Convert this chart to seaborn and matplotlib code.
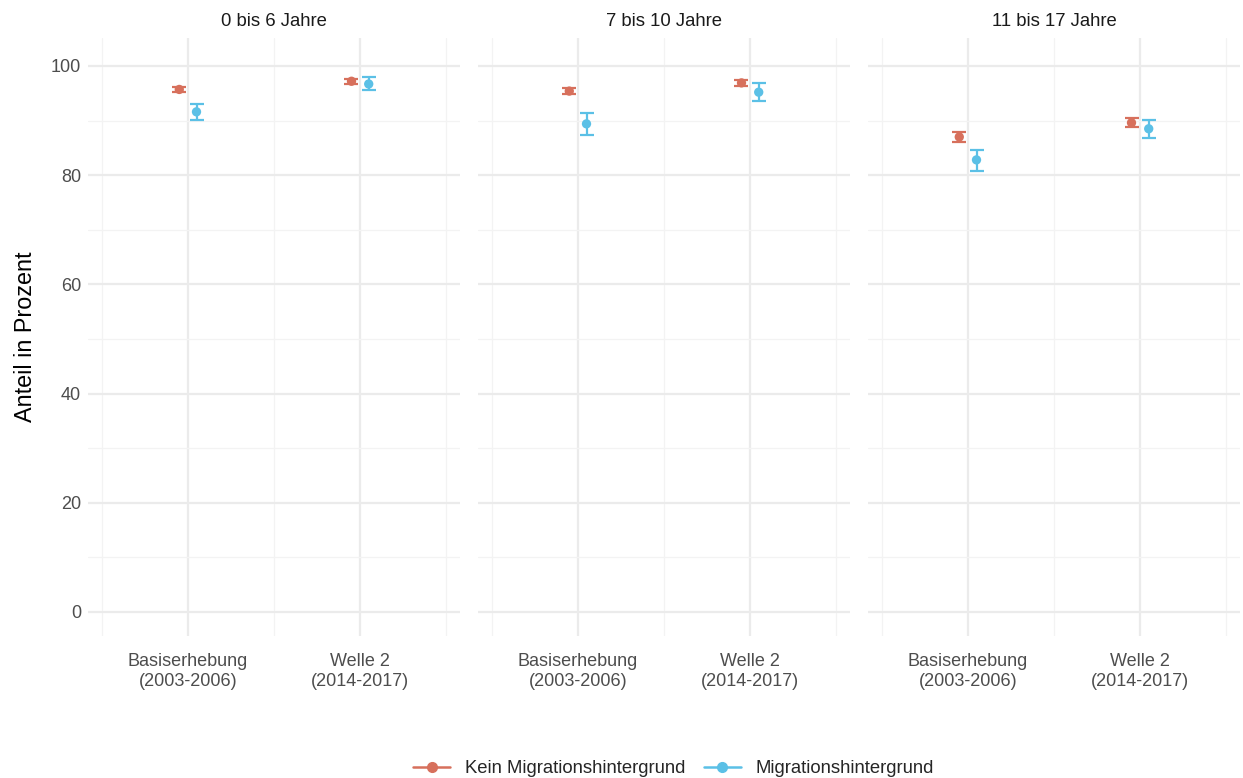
import numpy as np
import pandas as pd
import matplotlib
matplotlib.use("Agg")
import matplotlib.pyplot as plt
import seaborn as sns
from matplotlib.lines import Line2D
from matplotlib.ticker import MultipleLocator

# Data
age_groups = ["0 bis 6 Jahre", "7 bis 10 Jahre", "11 bis 17 Jahre"]
waves = ["Basiserhebung\n(2003-2006)", "Welle 2\n(2014-2017)"]
groups = ["Kein Migrationshintergrund", "Migrationshintergrund"]

# values per age group: [Basiserhebung, Welle 2]
kein_val = [[95.7, 97.2], [95.4, 96.9], [87.0, 89.6]]
kein_lo = [[95.2, 96.7], [94.9, 96.4], [86.1, 88.8]]
kein_hi = [[96.2, 97.7], [95.9, 97.4], [87.9, 90.4]]

mig_val = [[91.6, 96.7], [89.4, 95.2], [82.8, 88.5]]
mig_lo = [[90.1, 95.6], [87.4, 93.6], [80.8, 86.8]]
mig_hi = [[93.0, 98.0], [91.4, 96.9], [84.6, 90.1]]

colors = {"Kein Migrationshintergrund": "#D7705C", "Migrationshintergrund": "#5BC0E6"}
dodge = {"Kein Migrationshintergrund": -0.05, "Migrationshintergrund": 0.05}

rows = []
for i, age in enumerate(age_groups):
    for j, w in enumerate(waves):
        rows.append([age, j + 1, groups[0], kein_val[i][j], kein_lo[i][j], kein_hi[i][j]])
        rows.append([age, j + 1, groups[1], mig_val[i][j], mig_lo[i][j], mig_hi[i][j]])
df = pd.DataFrame(rows, columns=["alter", "welle", "gruppe", "wert", "lo", "hi"])
df["x"] = df["welle"] + df["gruppe"].map(dodge)

sns.set_theme(style="whitegrid")
plt.rcParams["font.family"] = ["Liberation Sans", "DejaVu Sans"]

fig = plt.figure(figsize=(12.43, 7.78), dpi=100)
bottom, top = 0.1825, 0.951
centers = [274, 664, 1054]
half = 186
axes = []
for k, c in enumerate(centers):
    ax = fig.add_axes([(c - half) / 1243, bottom, 2 * half / 1243, top - bottom])
    axes.append(ax)

for ax, age in zip(axes, age_groups):
    sub = df[df["alter"] == age]
    for g in groups:
        s = sub[sub["gruppe"] == g]
        ax.errorbar(s["x"], s["wert"], yerr=[s["wert"] - s["lo"], s["hi"] - s["wert"]],
                    fmt="none", ecolor=colors[g], elinewidth=1.6, capsize=5,
                    capthick=1.6, zorder=3)
    sns.scatterplot(data=sub, x="x", y="wert", hue="gruppe", palette=colors,
                    s=45, edgecolor="none", legend=False, ax=ax, zorder=4)
    ax.set_xlim(0.42, 2.58)
    ax.set_ylim(-4.4, 105.1)
    ax.set_xticks([1, 2])
    ax.set_xticklabels(waves, linespacing=1.25)
    ax.set_xticks([0.5, 1.5, 2.5], minor=True)
    ax.yaxis.set_major_locator(MultipleLocator(20))
    ax.yaxis.set_minor_locator(MultipleLocator(10))
    ax.grid(which="major", color="#EBEBEB", linewidth=1.6)
    ax.grid(which="minor", color="#F3F3F3", linewidth=0.9)
    ax.set_facecolor("white")
    for sp in ax.spines.values():
        sp.set_visible(False)
    ax.tick_params(axis="both", which="both", length=0, labelsize=13,
                   labelcolor="#4D4D4D")
    ax.tick_params(axis="x", pad=12)
    ax.tick_params(axis="y", pad=5)
    ax.set_xlabel("")
    ax.set_ylabel("")
    ax.set_title(age, fontsize=13.3, color="#1A1A1A", pad=9)

axes[0].set_ylabel("Anteil in Prozent", fontsize=16.8, color="black", labelpad=10)
axes[0].set_yticks([0, 20, 40, 60, 80, 100])
for ax in axes[1:]:
    ax.tick_params(axis="y", labelleft=False)

handles = [Line2D([0], [0], color=colors[g], marker="o", markersize=7, linewidth=1.8)
           for g in groups]
fig.legend(handles, groups, loc="center", bbox_to_anchor=(0.542, 0.012), ncol=2,
           frameon=False, fontsize=13.3, handlelength=2.0, columnspacing=1.0,
           handletextpad=0.8)

fig.savefig("out.png", dpi=100)
